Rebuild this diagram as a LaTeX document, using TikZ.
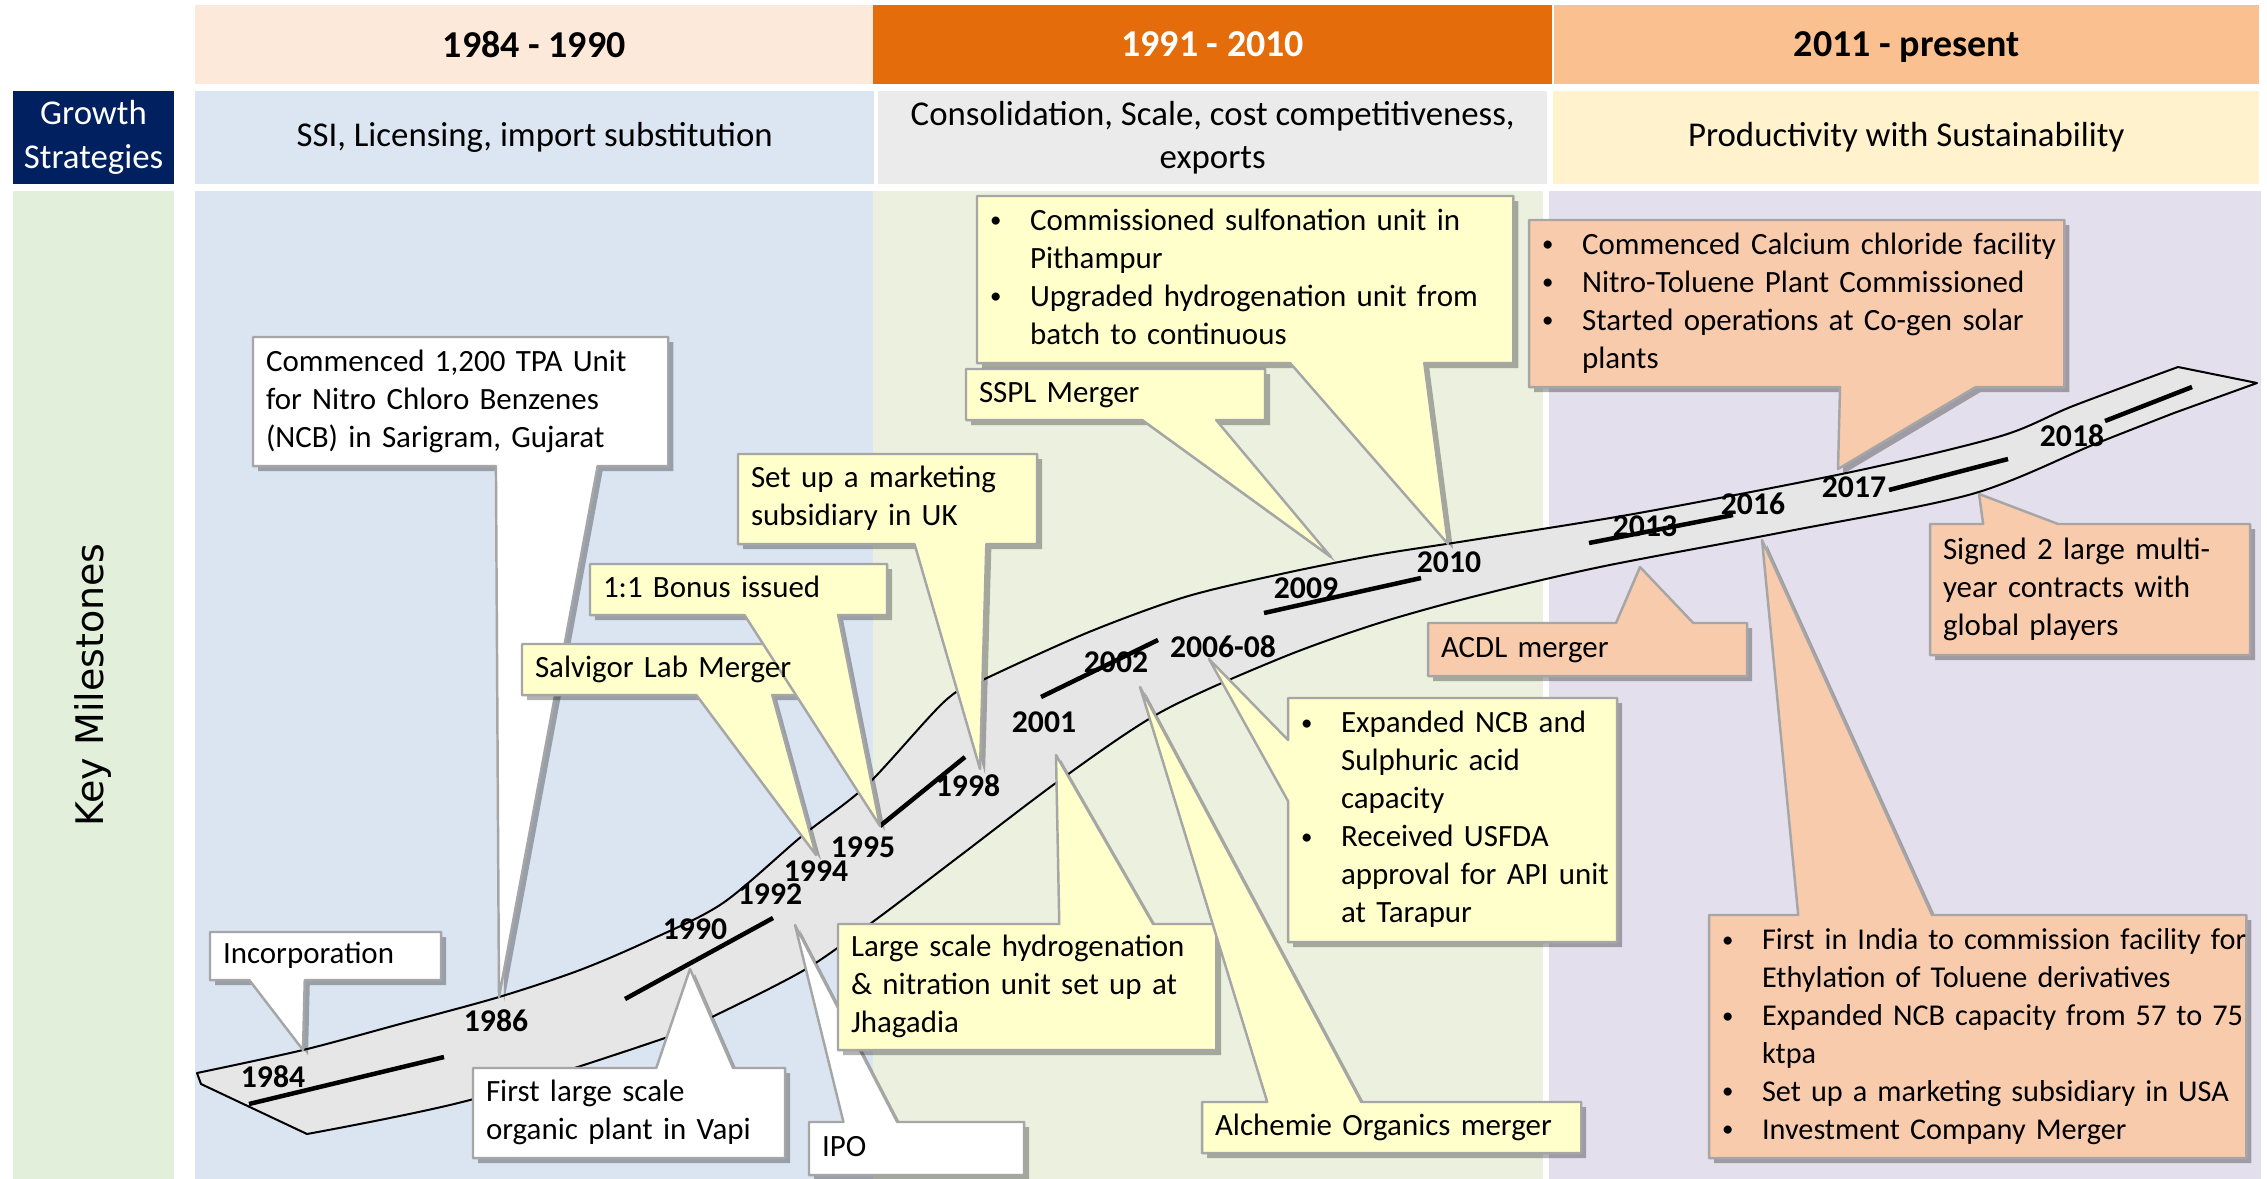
\documentclass[tikz,border=0pt]{standalone}
\usepackage{fontspec}
\setmainfont{Carlito}
\newfontfamily\keyfont{DejaVu Sans}
\usepackage{xcolor}
\usepackage{tikz}
\usetikzlibrary{calc,shadows}

\definecolor{hdrA}{RGB}{253,233,217}
\definecolor{hdrB}{RGB}{228,108,10}
\definecolor{hdrC}{RGB}{250,192,144}
\definecolor{stratA}{RGB}{220,230,242}
\definecolor{stratB}{RGB}{235,235,235}
\definecolor{stratC}{RGB}{255,242,204}
\definecolor{navy}{RGB}{0,32,96}
\definecolor{keygreen}{RGB}{226,239,218}
\definecolor{bodyA}{RGB}{219,229,241}
\definecolor{bodyB}{RGB}{235,241,222}
\definecolor{bodyC}{RGB}{228,223,236}
\definecolor{noteY}{RGB}{255,255,204}
\definecolor{noteP}{RGB}{248,203,173}
\definecolor{edgegray}{RGB}{166,166,166}
\definecolor{bandgray}{RGB}{230,230,230}

\pgfdeclarelayer{back}
\pgfdeclarelayer{mid}
\pgfsetlayers{back,mid,main}

\newcommand{\notefont}{\fontsize{8.8}{10.8}\selectfont}
\newcommand{\rows}[1]{\begin{tabular}{@{}l@{}}#1\end{tabular}}
\newcommand{\dotline}[1]{\makebox[0.4cm][l]{\raisebox{0.15ex}{\fontsize{6.5}{6.5}\selectfont\textbullet}}#1}
\newcommand{\restline}[1]{\hspace*{0.4cm}#1}

% callout outline: box with its tail below, above or left
\newcommand{\tailS}[5]{\begin{pgfonlayer}{mid}
  \draw[#1] (#2.north west) -- (#2.north east) -- (#2.south east)
    -- ($(#2.south west)!#4!(#2.south east)$) -- (#5)
    -- ($(#2.south west)!#3!(#2.south east)$) -- (#2.south west) -- cycle;
  \end{pgfonlayer}}
\newcommand{\tailN}[5]{\begin{pgfonlayer}{mid}
  \draw[#1] (#2.south west) -- (#2.north west)
    -- ($(#2.north west)!#3!(#2.north east)$) -- (#5)
    -- ($(#2.north west)!#4!(#2.north east)$) -- (#2.north east) -- (#2.south east) -- cycle;
  \end{pgfonlayer}}
\newcommand{\tailW}[5]{\begin{pgfonlayer}{mid}
  \draw[#1] (#2.north west) -- (#2.north east) -- (#2.south east) -- (#2.south west)
    -- ($(#2.north west)!#4!(#2.south west)$) -- (#5)
    -- ($(#2.north west)!#3!(#2.south west)$) -- cycle;
  \end{pgfonlayer}}

\begin{document}
\begin{tikzpicture}[x=0.01cm, y=-0.01cm,
  period/.style={anchor=north west, inner sep=0pt, outer sep=0pt, text depth=0pt, font=\fontsize{10.8}{13}\selectfont\bfseries},
  strat/.style={anchor=north west, inner sep=0pt, outer sep=0pt, align=center, font=\fontsize{9.9}{12.3}\selectfont},
  note/.style={anchor=north west, inner xsep=0.13cm, inner ysep=0pt, outer sep=0pt, align=left, font=\notefont},
  card/.style={draw=edgegray, line width=0.7pt, line join=round,
    drop shadow={shadow xshift=0.05cm, shadow yshift=-0.05cm, fill=black, opacity=0.3}},
  wcard/.style={card, fill=white},
  ycard/.style={card, fill=noteY},
  pcard/.style={card, fill=noteP},
  band/.style={draw=black, line width=0.02cm, fill=bandgray, line join=round},
  tick/.style={line width=0.045cm},
  yr/.style={inner sep=0pt, font=\fontsize{9}{11}\selectfont\bfseries}]
\useasboundingbox (0,0) rectangle (2267,1179);

\begin{pgfonlayer}{back}
% periods
\node[period, fill=hdrA, minimum width=6.78cm, minimum height=0.79cm] (era1) at (195,5) {1984 - 1990};
\node[period, fill=hdrB, text=white, minimum width=6.79cm, minimum height=0.79cm] (era2) at (873,5) {1991 - 2010};
\node[period, fill=hdrC, minimum width=7.05cm, minimum height=0.79cm] (era3) at (1554,5) {2011 - present};
% strategies
\node[strat, fill=navy, text=white, minimum width=1.61cm, minimum height=0.93cm] (growth) at (13,91) {Growth\\Strategies};
\node[strat, fill=stratA, minimum width=6.79cm, minimum height=0.93cm] (ssi) at (195,91) {SSI, Licensing, import substitution};
\node[strat, fill=stratB, minimum width=6.69cm, minimum height=0.93cm] (consol) at (878,91) {Consolidation, Scale, cost competitiveness,\\exports};
\node[strat, fill=stratC, minimum width=7.06cm, minimum height=0.93cm] (prod) at (1553,91) {Productivity with Sustainability};
% milestones
\node[rotate=90, fill=keygreen, minimum width=9.88cm, minimum height=1.61cm, inner sep=0pt,
  font=\keyfont\fontsize{10.8}{13}\selectfont] (key) at (93.5,685) {Key Milestones};
\fill[bodyA] (195,191) rectangle (873,1179);
\fill[bodyB] (873,191) rectangle (1543,1179);
\fill[bodyC] (1549,191) rectangle (2261,1179);

% timeline band
\draw[band] plot[smooth, tension=0.5] coordinates {(197,1073) (303,1050) (400,1024) (499,997)
    (580,970) (650,940) (723,903) (802,836) (867,785) (946,700) (989,677) (1089,632) (1185,597)
    (1281,574) (1376,555) (1472,540) (1639,513) (1856,471) (2001,436) (2073,406) (2178,367)}
  -- (2257,383)
  -- plot[smooth, tension=0.5] coordinates {(2174,413) (2095,444) (1972,494) (1784,532) (1600,567)
    (1472,597) (1376,624) (1281,658) (1161,712) (1060,780) (961,855) (878,918) (806,969)
    (712,1017) (665,1038) (470,1100) (307,1134)}
  -- (201,1084) -- cycle;
\draw[tick] (249,1104) -- (444,1057);
\draw[tick] (625,999) -- (773,918);
\draw[tick] (880,826) -- (965,757);
\draw[tick] (1041,697) -- (1158,640);
\draw[tick] (1264,613) -- (1421,578);
\draw[tick] (1589,543) -- (1733,515);
\draw[tick] (1889,490) -- (2008,459);
\draw[tick] (2105,421) -- (2192,387);
\end{pgfonlayer}

% points on the band
\coordinate (t84) at (303,1050);
\coordinate (t86) at (499,997);
\coordinate (t90) at (690,969);
\coordinate (t92) at (795,925);
\coordinate (t94) at (816,855);
\coordinate (t95) at (880,826);
\coordinate (t98) at (980,769);
\coordinate (t01) at (1056,755);
\coordinate (t02) at (1140,687);
\coordinate (t06) at (1209,659);
\coordinate (t09) at (1331,557);
\coordinate (t10) at (1448,544);
\coordinate (t13) at (1640,567);
\coordinate (t16) at (1762,540);
\coordinate (t17) at (1838,469);
\coordinate (t18) at (1979,494);

% callouts
\node[note, text width=3.89cm, minimum height=1.29cm] (ncb) at (253,337)
  {\rows{Commenced 1,200 TPA Unit\\for Nitro Chloro Benzenes\\(NCB) in Sarigram, Gujarat}};
\tailS{wcard}{ncb}{.585}{.83}{t86}
\node[note, text width=2.05cm, minimum height=0.48cm] (incorp) at (210,932) {\rows{Incorporation}};
\tailS{wcard}{incorp}{.17}{.41}{t84}
\node[note, text width=2.86cm, minimum height=0.90cm] (vapi) at (473,1068)
  {\rows{First large scale\\organic plant in Vapi}};
\tailN{wcard}{vapi}{.587}{.833}{t90}
\node[note, text width=1.89cm, minimum height=0.53cm] (ipo) at (809,1122) {\rows{IPO}};
\tailN{wcard}{ipo}{.16}{.41}{t92}
\node[note, text width=2.55cm, minimum height=0.51cm] (salvigor) at (522,644) {\rows{Salvigor Lab Merger}};
\tailS{ycard}{salvigor}{.62}{.89}{t94}
\node[note, text width=2.71cm, minimum height=0.51cm] (bonus) at (590,564) {\rows{1:1 Bonus issued}};
\tailS{ycard}{bonus}{.52}{.835}{t95}
\node[note, text width=2.73cm, minimum height=0.90cm] (ukarm) at (738,454)
  {\rows{Set up a marketing\\subsidiary in UK}};
\tailS{ycard}{ukarm}{.59}{.83}{t98}
\node[note, text width=3.52cm, minimum height=1.26cm] (jhagadia) at (838,924)
  {\rows{Large scale hydrogenation\\\& nitration unit set up at\\Jhagadia}};
\tailN{ycard}{jhagadia}{.585}{.833}{t01}
\node[note, text width=3.53cm, minimum height=0.51cm] (alchemie) at (1202,1102) {\rows{Alchemie Organics merger}};
\tailN{ycard}{alchemie}{.172}{.42}{t02}
\node[note, text width=3.03cm, minimum height=2.44cm] (tarapur) at (1288,698)
  {\rows{\dotline{Expanded NCB and}\\\restline{Sulphuric acid}\\\restline{capacity}\\
   \dotline{Received USFDA}\\\restline{approval for API unit}\\\restline{at Tarapur}}};
\tailW{ycard}{tarapur}{.172}{.422}{t06}
\node[note, text width=2.73cm, minimum height=0.51cm] (sspl) at (966,369) {\rows{SSPL Merger}};
\tailS{ycard}{sspl}{.589}{.836}{t09}
\node[note, text width=5.10cm, minimum height=1.67cm] (pithampur) at (977,196)
  {\rows{\dotline{Commissioned sulfonation unit in}\\\restline{Pithampur}\\
   \dotline{Upgraded hydrogenation unit from}\\\restline{batch to continuous}}};
\tailS{ycard}{pithampur}{.584}{.834}{t10}
\node[note, text width=5.09cm, minimum height=1.67cm] (cacl) at (1529,220)
  {\rows{\dotline{Commenced Calcium chloride facility}\\\dotline{Nitro-Toluene Plant Commissioned}\\
   \dotline{Started operations at Co-gen solar}\\\restline{plants}}};
\tailS{pcard}{cacl}{.581}{.834}{t17}
\node[note, text width=2.93cm, minimum height=0.53cm] (acdl) at (1428,623) {\rows{ACDL merger}};
\tailN{pcard}{acdl}{.589}{.831}{t13}
\node[note, text width=2.94cm, minimum height=1.31cm] (contracts) at (1930,524)
  {\rows{Signed 2 large multi-\\year contracts with\\global players}};
\tailN{pcard}{contracts}{.166}{.40}{t18}
\node[note, text width=5.11cm, minimum height=2.43cm, font=\fontsize{8.6}{10.8}\selectfont] (ethyl) at (1709,915)
  {\rows{\dotline{First in India to commission facility for}\\\restline{Ethylation of Toluene derivatives}\\
   \dotline{Expanded NCB capacity from 57 to 75}\\\restline{ktpa}\\
   \dotline{Set up a marketing subsidiary in USA}\\\dotline{Investment Company Merger}}};
\tailN{pcard}{ethyl}{.166}{.415}{t16}

% years
\node[yr] (y84) at (273,1077) {1984};
\node[yr] (y86) at (496,1021) {1986};
\node[yr] (y90) at (695,929) {1990};
\node[yr] (y92) at (770,894) {1992};
\node[yr] (y94) at (816,871) {1994};
\node[yr] (y95) at (863,847) {1995};
\node[yr] (y98) at (968,786) {1998};
\node[yr] (y01) at (1044,722) {2001};
\node[yr] (y02) at (1116,662) {2002};
\node[yr] (y06) at (1223,647) {2006-08};
\node[yr] (y09) at (1306,588) {2009};
\node[yr] (y10) at (1449,562) {2010};
\node[yr] (y13) at (1645,526) {2013};
\node[yr] (y16) at (1753,504) {2016};
\node[yr] (y17) at (1854,487) {2017};
\node[yr] (y18) at (2072,436) {2018};
\end{tikzpicture}
\end{document}
